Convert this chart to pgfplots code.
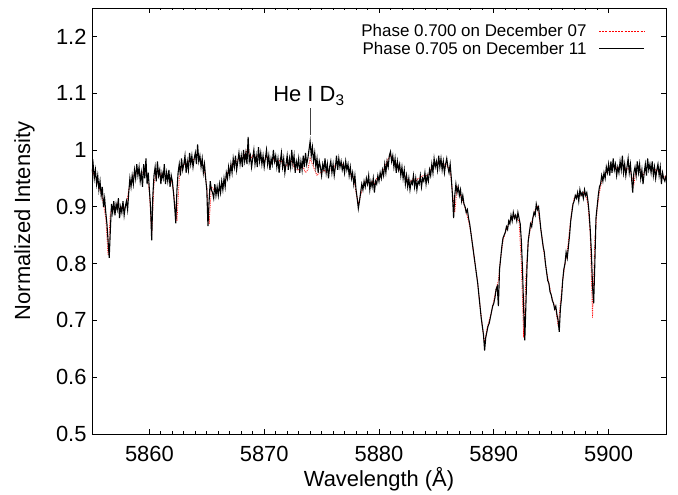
\documentclass[border=0pt]{standalone}
\usepackage{pgfplots}
\pgfplotsset{compat=1.18}
\usepackage{fontspec}
\setmainfont{Liberation Sans}
\begin{document}
\begin{tikzpicture}
\begin{axis}[
  scale only axis, width=574bp, height=426bp,
  xmin=5855, xmax=5905, ymin=0.5, ymax=1.25,
  xtick={5860,5870,5880,5890,5900},
  minor x tick num=9,
  ytick={0.5,0.6,0.7,0.8,0.9,1,1.1,1.2},
  tick align=inside, major tick length=5bp, minor tick length=2.5bp,
  tick style={black, line width=0.8bp},
  axis line style={line width=0.9bp},
  /pgf/number format/1000 sep={},
  /pgf/number format/assume math mode=true,
  tick label style={font=\fontsize{22}{26}\selectfont},
  xticklabel style={yshift=-9bp},
  yticklabel style={xshift=-2bp},
  xlabel={Wavelength (Å)}, ylabel={Normalized Intensity},
  every axis x label/.style={at={(rel axis cs:0.5,-0.1244)}, anchor=base, font=\fontsize{22}{26}\selectfont},
  every axis y label/.style={at={(rel axis cs:-0.108,0.5)}, anchor=base, rotate=90, font=\fontsize{22}{26}\selectfont},
  legend plot pos=right,
  legend cell align=right,
  legend style={draw=none, fill=none, at={(rel axis cs:0.963,0.967)}, anchor=north east,
    font=\fontsize{17}{20}\selectfont, row sep=0bp, column sep=10bp, inner sep=0bp},
  clip=true,
]
\addlegendimage{legend image code/.code={\draw[draw=red, line width=1.1bp, dash pattern=on 2bp off 1.2bp] (0bp,0bp) -- (45bp,0bp);}}
\addlegendentry{Phase 0.700 on December 07}
\addlegendimage{legend image code/.code={\draw[draw=black, line width=1.1bp] (0bp,0bp) -- (45bp,0bp);}}
\addlegendentry{Phase 0.705 on December 11}
\addplot[forget plot, red, densely dotted, line width=0.8bp] coordinates {
(5855.0,0.965)(5855.2,0.955)(5855.4,0.95)(5855.6,0.935)(5855.8,0.925)
(5856.0,0.905)(5856.2,0.88)(5856.4,0.815)(5856.6,0.89)(5856.8,0.895)
(5857.0,0.895)(5857.2,0.905)(5857.4,0.895)(5857.6,0.90)(5857.8,0.895)
(5858.0,0.905)(5858.2,0.93)(5858.4,0.945)(5858.6,0.955)(5858.8,0.96)
(5859.0,0.96)(5859.2,0.955)(5859.4,0.96)(5859.6,0.965)(5859.8,0.955)
(5860.0,0.925)(5860.2,0.85)(5860.4,0.94)(5860.6,0.96)(5860.8,0.965)
(5861.0,0.955)(5861.2,0.96)(5861.4,0.955)(5861.6,0.955)(5861.8,0.95)
(5862.0,0.94)(5862.2,0.91)(5862.4,0.875)(5862.6,0.95)(5862.8,0.97)
(5863.0,0.975)(5863.2,0.975)(5863.4,0.98)(5863.6,0.985)(5863.8,0.98)
(5864.0,0.99)(5864.2,0.995)(5864.4,0.985)(5864.6,0.975)(5864.8,0.965)
(5865.0,0.935)(5865.2,0.87)(5865.4,0.935)(5865.6,0.93)(5865.8,0.93)
(5866.0,0.925)(5866.2,0.935)(5866.4,0.94)(5866.6,0.945)(5866.8,0.96)
(5867.0,0.965)(5867.2,0.975)(5867.4,0.98)(5867.6,0.98)(5867.8,0.985)
(5868.0,0.985)(5868.2,0.99)(5868.4,0.995)(5868.6,1.005)(5868.8,0.985)
(5869.0,0.99)(5869.2,0.985)(5869.4,0.99)(5869.6,0.99)(5869.8,0.985)
(5870.0,0.98)(5870.2,0.99)(5870.4,0.98)(5870.6,0.975)(5870.8,0.985)
(5871.0,0.98)(5871.2,0.975)(5871.4,0.985)(5871.6,0.975)(5871.8,0.97)
(5872.0,0.975)(5872.2,0.975)(5872.4,0.98)(5872.6,0.97)(5872.8,0.965)
(5873.0,0.965)(5873.2,0.97)(5873.4,0.97)(5873.6,0.96)(5873.8,0.965)
(5874.0,0.985)(5874.2,0.975)(5874.4,0.965)(5874.6,0.955)(5874.8,0.96)
(5875.0,0.96)(5875.2,0.965)(5875.4,0.96)(5875.6,0.965)(5875.8,0.965)
(5876.0,0.965)(5876.2,0.975)(5876.4,0.98)(5876.6,0.975)(5876.8,0.975)
(5877.0,0.97)(5877.2,0.97)(5877.4,0.965)(5877.6,0.955)(5877.8,0.95)
(5878.0,0.925)(5878.2,0.905)(5878.4,0.92)(5878.6,0.935)(5878.8,0.945)
(5879.0,0.945)(5879.2,0.94)(5879.4,0.945)(5879.6,0.94)(5879.8,0.95)
(5880.0,0.95)(5880.2,0.955)(5880.4,0.965)(5880.6,0.975)(5880.8,0.985)
(5881.0,0.99)(5881.2,0.985)(5881.4,0.975)(5881.6,0.975)(5881.8,0.965)
(5882.0,0.96)(5882.2,0.955)(5882.4,0.95)(5882.6,0.945)(5882.8,0.945)
(5883.0,0.95)(5883.2,0.945)(5883.4,0.95)(5883.6,0.95)(5883.8,0.955)
(5884.0,0.955)(5884.2,0.955)(5884.4,0.96)(5884.6,0.97)(5884.8,0.975)
(5885.0,0.975)(5885.2,0.98)(5885.4,0.98)(5885.6,0.975)(5885.8,0.975)
(5886.0,0.97)(5886.2,0.965)(5886.4,0.925)(5886.6,0.89)(5886.8,0.935)
(5887.0,0.925)(5887.2,0.915)(5887.4,0.905)(5887.6,0.89)(5887.8,0.875)
(5888.0,0.855)(5888.2,0.825)(5888.4,0.795)(5888.6,0.765)(5888.8,0.725)
(5889.0,0.69)(5889.2,0.66)(5889.4,0.685)(5889.6,0.70)(5889.8,0.715)
(5890.0,0.735)(5890.2,0.755)(5890.4,0.77)(5890.6,0.81)(5890.8,0.84)
(5891.0,0.855)(5891.2,0.865)(5891.4,0.875)(5891.6,0.88)(5891.8,0.885)
(5892.0,0.88)(5892.2,0.875)(5892.4,0.80)(5892.6,0.67)(5892.8,0.78)
(5893.0,0.84)(5893.2,0.865)(5893.4,0.88)(5893.6,0.895)(5893.8,0.90)
(5894.0,0.875)(5894.2,0.845)(5894.4,0.815)(5894.6,0.785)(5894.8,0.765)
(5895.0,0.745)(5895.2,0.73)(5895.4,0.72)(5895.6,0.69)(5895.8,0.73)
(5896.0,0.77)(5896.2,0.80)(5896.4,0.82)(5896.6,0.86)(5896.8,0.895)
(5897.0,0.915)(5897.2,0.92)(5897.4,0.92)(5897.6,0.92)(5897.8,0.925)
(5898.0,0.92)(5898.2,0.905)(5898.4,0.85)(5898.6,0.705)(5898.8,0.84)
(5899.0,0.895)(5899.2,0.925)(5899.4,0.945)(5899.6,0.955)(5899.8,0.96)
(5900.0,0.965)(5900.2,0.97)(5900.4,0.97)(5900.6,0.97)(5900.8,0.965)
(5901.0,0.975)(5901.2,0.975)(5901.4,0.97)(5901.6,0.965)(5901.8,0.97)
(5902.0,0.955)(5902.2,0.94)(5902.4,0.965)(5902.6,0.97)(5902.8,0.965)
(5903.0,0.955)(5903.2,0.965)(5903.4,0.97)(5903.6,0.97)(5903.8,0.965)
(5904.0,0.965)(5904.2,0.965)(5904.4,0.96)(5904.6,0.955)(5904.8,0.95)
(5905.0,0.955)
};
\addplot[forget plot, black, line width=1.1bp] coordinates {
(5855.0,0.96)(5855.1,0.975)(5855.2,0.95)(5855.3,0.965)(5855.4,0.94)(5855.5,0.955)(5855.6,0.93)(5855.7,0.945)(5855.8,0.92)(5855.9,0.935)
(5856.0,0.90)(5856.1,0.915)(5856.2,0.89)(5856.3,0.87)(5856.4,0.84)(5856.5,0.81)(5856.6,0.86)(5856.7,0.905)(5856.8,0.89)(5856.9,0.91)
(5857.0,0.885)(5857.1,0.905)(5857.2,0.895)(5857.3,0.915)(5857.4,0.88)(5857.5,0.90)(5857.6,0.89)(5857.7,0.91)(5857.8,0.885)(5857.9,0.90)
(5858.0,0.91)(5858.1,0.895)(5858.2,0.925)(5858.3,0.95)(5858.4,0.935)(5858.5,0.955)(5858.6,0.94)(5858.7,0.965)(5858.8,0.95)(5858.9,0.975)
(5859.0,0.955)(5859.1,0.97)(5859.2,0.945)(5859.3,0.96)(5859.4,0.935)(5859.5,0.975)(5859.6,0.95)(5859.7,0.985)(5859.8,0.94)(5859.9,0.96)
(5860.0,0.93)(5860.1,0.90)(5860.2,0.841)(5860.3,0.92)(5860.4,0.955)(5860.5,0.97)(5860.6,0.945)(5860.7,0.98)(5860.8,0.955)(5860.9,0.965)
(5861.0,0.94)(5861.1,0.96)(5861.2,0.95)(5861.3,0.975)(5861.4,0.94)(5861.5,0.96)(5861.6,0.945)(5861.7,0.965)(5861.8,0.935)(5861.9,0.955)
(5862.0,0.945)(5862.1,0.925)(5862.2,0.90)(5862.3,0.871)(5862.4,0.93)(5862.5,0.96)(5862.6,0.975)(5862.7,0.955)(5862.8,0.985)(5862.9,0.965)
(5863.0,0.975)(5863.1,0.99)(5863.2,0.96)(5863.3,0.98)(5863.4,0.965)(5863.5,0.995)(5863.6,0.975)(5863.7,0.99)(5863.8,0.97)(5863.9,0.985)
(5864.0,0.995)(5864.1,0.975)(5864.2,1.01)(5864.3,0.98)(5864.4,0.99)(5864.5,0.97)(5864.6,0.985)(5864.7,0.96)(5864.8,0.975)(5864.9,0.95)
(5865.0,0.93)(5865.1,0.866)(5865.2,0.91)(5865.3,0.945)(5865.4,0.93)(5865.5,0.925)(5865.6,0.915)(5865.7,0.94)(5865.8,0.92)(5865.9,0.935)
(5866.0,0.92)(5866.1,0.94)(5866.2,0.925)(5866.3,0.945)(5866.4,0.93)(5866.5,0.95)(5866.6,0.935)(5866.7,0.96)(5866.8,0.95)(5866.9,0.97)
(5867.0,0.955)(5867.1,0.975)(5867.2,0.96)(5867.3,0.985)(5867.4,0.97)(5867.5,0.99)(5867.6,0.965)(5867.7,0.98)(5867.8,0.995)(5867.9,0.975)
(5868.0,0.99)(5868.1,0.97)(5868.2,1.0)(5868.3,0.98)(5868.4,0.995)(5868.5,0.975)(5868.6,1.023)(5868.7,0.98)(5868.8,0.99)(5868.9,0.97)
(5869.0,0.985)(5869.1,1.0)(5869.2,0.975)(5869.3,0.99)(5869.4,0.97)(5869.5,1.005)(5869.6,0.98)(5869.7,0.995)(5869.8,0.975)(5869.9,0.99)
(5870.0,0.97)(5870.1,0.985)(5870.2,1.0)(5870.3,0.975)(5870.4,0.99)(5870.5,0.965)(5870.6,0.985)(5870.7,0.975)(5870.8,1.0)(5870.9,0.98)
(5871.0,0.99)(5871.1,0.97)(5871.2,0.985)(5871.3,0.96)(5871.4,0.98)(5871.5,0.995)(5871.6,0.97)(5871.7,0.985)(5871.8,0.96)(5871.9,0.975)
(5872.0,0.99)(5872.1,0.965)(5872.2,0.985)(5872.3,0.97)(5872.4,1.0)(5872.5,0.975)(5872.6,0.99)(5872.7,0.96)(5872.8,0.98)(5872.9,0.97)
(5873.0,0.985)(5873.1,0.96)(5873.2,0.98)(5873.3,0.965)(5873.4,0.99)(5873.5,0.97)(5873.6,0.995)(5873.7,0.975)(5873.8,0.985)(5873.9,1.0)
(5874.0,1.015)(5874.1,0.99)(5874.2,1.005)(5874.3,0.98)(5874.4,0.995)(5874.5,0.97)(5874.6,0.985)(5874.7,0.96)(5874.8,0.98)(5874.9,0.97)
(5875.0,0.955)(5875.1,0.975)(5875.2,0.965)(5875.3,0.985)(5875.4,0.96)(5875.5,0.975)(5875.6,0.95)(5875.7,0.97)(5875.8,0.98)(5875.9,0.96)
(5876.0,0.975)(5876.1,0.955)(5876.2,0.97)(5876.3,0.99)(5876.4,0.965)(5876.5,0.985)(5876.6,0.97)(5876.7,0.98)(5876.8,0.965)(5876.9,0.975)
(5877.0,0.96)(5877.1,0.98)(5877.2,0.965)(5877.3,0.975)(5877.4,0.955)(5877.5,0.97)(5877.6,0.95)(5877.7,0.96)(5877.8,0.94)(5877.9,0.955)
(5878.0,0.93)(5878.1,0.915)(5878.2,0.897)(5878.3,0.91)(5878.4,0.925)(5878.5,0.94)(5878.6,0.93)(5878.7,0.945)(5878.8,0.935)(5878.9,0.95)
(5879.0,0.94)(5879.1,0.955)(5879.2,0.93)(5879.3,0.945)(5879.4,0.935)(5879.5,0.95)(5879.6,0.925)(5879.7,0.945)(5879.8,0.94)(5879.9,0.955)
(5880.0,0.945)(5880.1,0.96)(5880.2,0.95)(5880.3,0.965)(5880.4,0.955)(5880.5,0.975)(5880.6,0.96)(5880.7,0.98)(5880.8,0.97)(5880.9,0.99)
(5881.0,0.997)(5881.1,0.98)(5881.2,0.99)(5881.3,0.97)(5881.4,0.985)(5881.5,0.96)(5881.6,0.98)(5881.7,0.965)(5881.8,0.975)(5881.9,0.955)
(5882.0,0.97)(5882.1,0.95)(5882.2,0.965)(5882.3,0.94)(5882.4,0.955)(5882.5,0.935)(5882.6,0.95)(5882.7,0.93)(5882.8,0.945)(5882.9,0.94)
(5883.0,0.955)(5883.1,0.935)(5883.2,0.95)(5883.3,0.93)(5883.4,0.945)(5883.5,0.94)(5883.6,0.955)(5883.7,0.935)(5883.8,0.95)(5883.9,0.945)
(5884.0,0.96)(5884.1,0.94)(5884.2,0.955)(5884.3,0.945)(5884.4,0.965)(5884.5,0.955)(5884.6,0.975)(5884.7,0.96)(5884.8,0.985)(5884.9,0.97)
(5885.0,0.98)(5885.1,0.965)(5885.2,0.99)(5885.3,0.97)(5885.4,0.985)(5885.5,0.965)(5885.6,0.98)(5885.7,0.96)(5885.8,0.975)(5885.9,0.985)
(5886.0,0.97)(5886.1,0.96)(5886.2,0.975)(5886.3,0.95)(5886.4,0.92)(5886.5,0.88)(5886.6,0.92)(5886.7,0.94)(5886.8,0.925)(5886.9,0.935)
(5887.0,0.92)(5887.1,0.93)(5887.2,0.91)(5887.3,0.92)(5887.4,0.905)(5887.5,0.90)(5887.6,0.89)(5887.7,0.895)(5887.8,0.88)(5887.9,0.87)
(5888.0,0.855)(5888.1,0.84)(5888.2,0.825)(5888.3,0.81)(5888.4,0.795)(5888.5,0.78)(5888.6,0.765)(5888.7,0.745)(5888.8,0.725)(5888.9,0.705)
(5889.0,0.69)(5889.1,0.675)(5889.2,0.647)(5889.3,0.67)(5889.4,0.68)(5889.5,0.69)(5889.6,0.695)(5889.7,0.705)(5889.8,0.715)(5889.9,0.725)
(5890.0,0.73)(5890.1,0.74)(5890.2,0.755)(5890.3,0.76)(5890.4,0.725)(5890.5,0.79)(5890.6,0.81)(5890.7,0.83)(5890.8,0.845)(5890.9,0.85)
(5891.0,0.855)(5891.1,0.865)(5891.2,0.86)(5891.3,0.875)(5891.4,0.87)(5891.5,0.885)(5891.6,0.875)(5891.7,0.89)(5891.8,0.88)(5891.9,0.885)
(5892.0,0.875)(5892.1,0.89)(5892.2,0.88)(5892.3,0.87)(5892.4,0.84)(5892.5,0.79)(5892.6,0.72)(5892.7,0.665)(5892.8,0.73)(5892.9,0.80)
(5893.0,0.84)(5893.1,0.855)(5893.2,0.87)(5893.3,0.865)(5893.4,0.88)(5893.5,0.89)(5893.6,0.885)(5893.7,0.905)(5893.8,0.895)(5893.9,0.90)
(5894.0,0.88)(5894.1,0.86)(5894.2,0.845)(5894.3,0.83)(5894.4,0.82)(5894.5,0.80)(5894.6,0.785)(5894.7,0.77)(5894.8,0.765)(5894.9,0.75)
(5895.0,0.745)(5895.1,0.735)(5895.2,0.73)(5895.3,0.72)(5895.4,0.725)(5895.5,0.71)(5895.6,0.70)(5895.7,0.68)(5895.8,0.72)(5895.9,0.74)
(5896.0,0.77)(5896.1,0.79)(5896.2,0.80)(5896.3,0.82)(5896.4,0.81)(5896.5,0.83)(5896.6,0.85)(5896.7,0.875)(5896.8,0.89)(5896.9,0.905)
(5897.0,0.91)(5897.1,0.92)(5897.2,0.915)(5897.3,0.925)(5897.4,0.91)(5897.5,0.93)(5897.6,0.92)(5897.7,0.925)(5897.8,0.915)(5897.9,0.93)
(5898.0,0.92)(5898.1,0.925)(5898.2,0.91)(5898.3,0.89)(5898.4,0.86)(5898.5,0.82)(5898.6,0.76)(5898.7,0.73)(5898.8,0.80)(5898.9,0.88)
(5899.0,0.90)(5899.1,0.92)(5899.2,0.935)(5899.3,0.94)(5899.4,0.955)(5899.5,0.945)(5899.6,0.96)(5899.7,0.95)(5899.8,0.97)(5899.9,0.96)
(5900.0,0.975)(5900.1,0.955)(5900.2,0.98)(5900.3,0.96)(5900.4,0.985)(5900.5,0.965)(5900.6,0.975)(5900.7,0.955)(5900.8,0.97)(5900.9,0.96)
(5901.0,0.98)(5901.1,0.965)(5901.2,0.99)(5901.3,0.96)(5901.4,0.975)(5901.5,0.955)(5901.6,0.97)(5901.7,0.985)(5901.8,0.96)(5901.9,0.975)
(5902.0,0.95)(5902.1,0.925)(5902.2,0.96)(5902.3,0.97)(5902.4,0.955)(5902.5,0.98)(5902.6,0.96)(5902.7,0.975)(5902.8,0.95)(5902.9,0.965)
(5903.0,0.94)(5903.1,0.96)(5903.2,0.975)(5903.3,0.955)(5903.4,0.985)(5903.5,0.965)(5903.6,0.975)(5903.7,0.96)(5903.8,0.98)(5903.9,0.955)
(5904.0,0.97)(5904.1,0.95)(5904.2,0.965)(5904.3,0.975)(5904.4,0.955)(5904.5,0.97)(5904.6,0.94)(5904.7,0.96)(5904.8,0.95)(5904.9,0.945)
(5905.0,0.955)
};
\draw[black!75, line width=0.8bp] (axis cs:5874.0,1.027) -- (axis cs:5874.0,1.074);
\node[anchor=base, font=\fontsize{22}{26}\selectfont, inner sep=0pt] at (axis cs:5873.9,1.0845) {He I D\textsubscript{3}};
\end{axis}
\path ([xshift=-92bp,yshift=-59bp]current axis.south west) rectangle ([xshift=12bp,yshift=8bp]current axis.north east);
\end{tikzpicture}
\end{document}
